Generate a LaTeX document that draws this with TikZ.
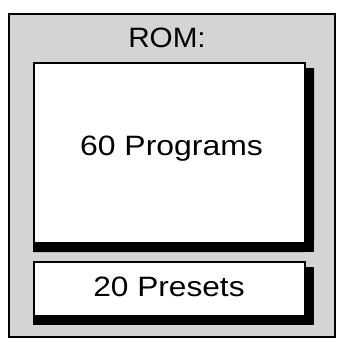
\documentclass[tikz,border=0pt]{standalone}
\usepackage{fontspec}
\setmainfont{Liberation Sans}
\begin{document}
\begin{tikzpicture}[x=1pt,y=-1pt,
  frame/.style={draw=black,line width=2pt,fill=black!17},
  panel/.style={draw=black,line width=2.4pt,fill=white},
  shadowbox/.style={fill=black,draw=none},
  lbl/.style={font=\fontsize{28}{30}\selectfont,anchor=base,inner sep=0pt}]
\useasboundingbox (0,0) rectangle (339,343);
% outer frame
\draw[frame] (9,14) rectangle (335,337);
% box 1 shadow and box
\fill[shadowbox] (33,241) -- (314,241) -- (314,68) -- (304,68) -- (304,252) -- (33,252) -- cycle;
\fill[shadowbox] (33,241) rectangle (314,252);
\fill[shadowbox] (304,68) rectangle (314,252);
\node[panel,minimum width=271pt,minimum height=180pt,anchor=north west,inner sep=0pt] (prog) at (33,62) {};
% box 2 shadow and box
\fill[shadowbox] (33,314) rectangle (314,325);
\fill[shadowbox] (304,267) rectangle (314,325);
\node[panel,minimum width=271pt,minimum height=54pt,anchor=north west,inner sep=0pt] (pres) at (33,261) {};
% labels
\node[lbl] (rom) at (167,47) {\scalebox{1.06}[1]{ROM:}};
\node[lbl] (t60) at (171.5,155) {\scalebox{1.14}[1]{60 Programs}};
\node[lbl] (t20) at (169,296) {\scalebox{1.13}[1]{20 Presets}};
\end{tikzpicture}
\end{document}
